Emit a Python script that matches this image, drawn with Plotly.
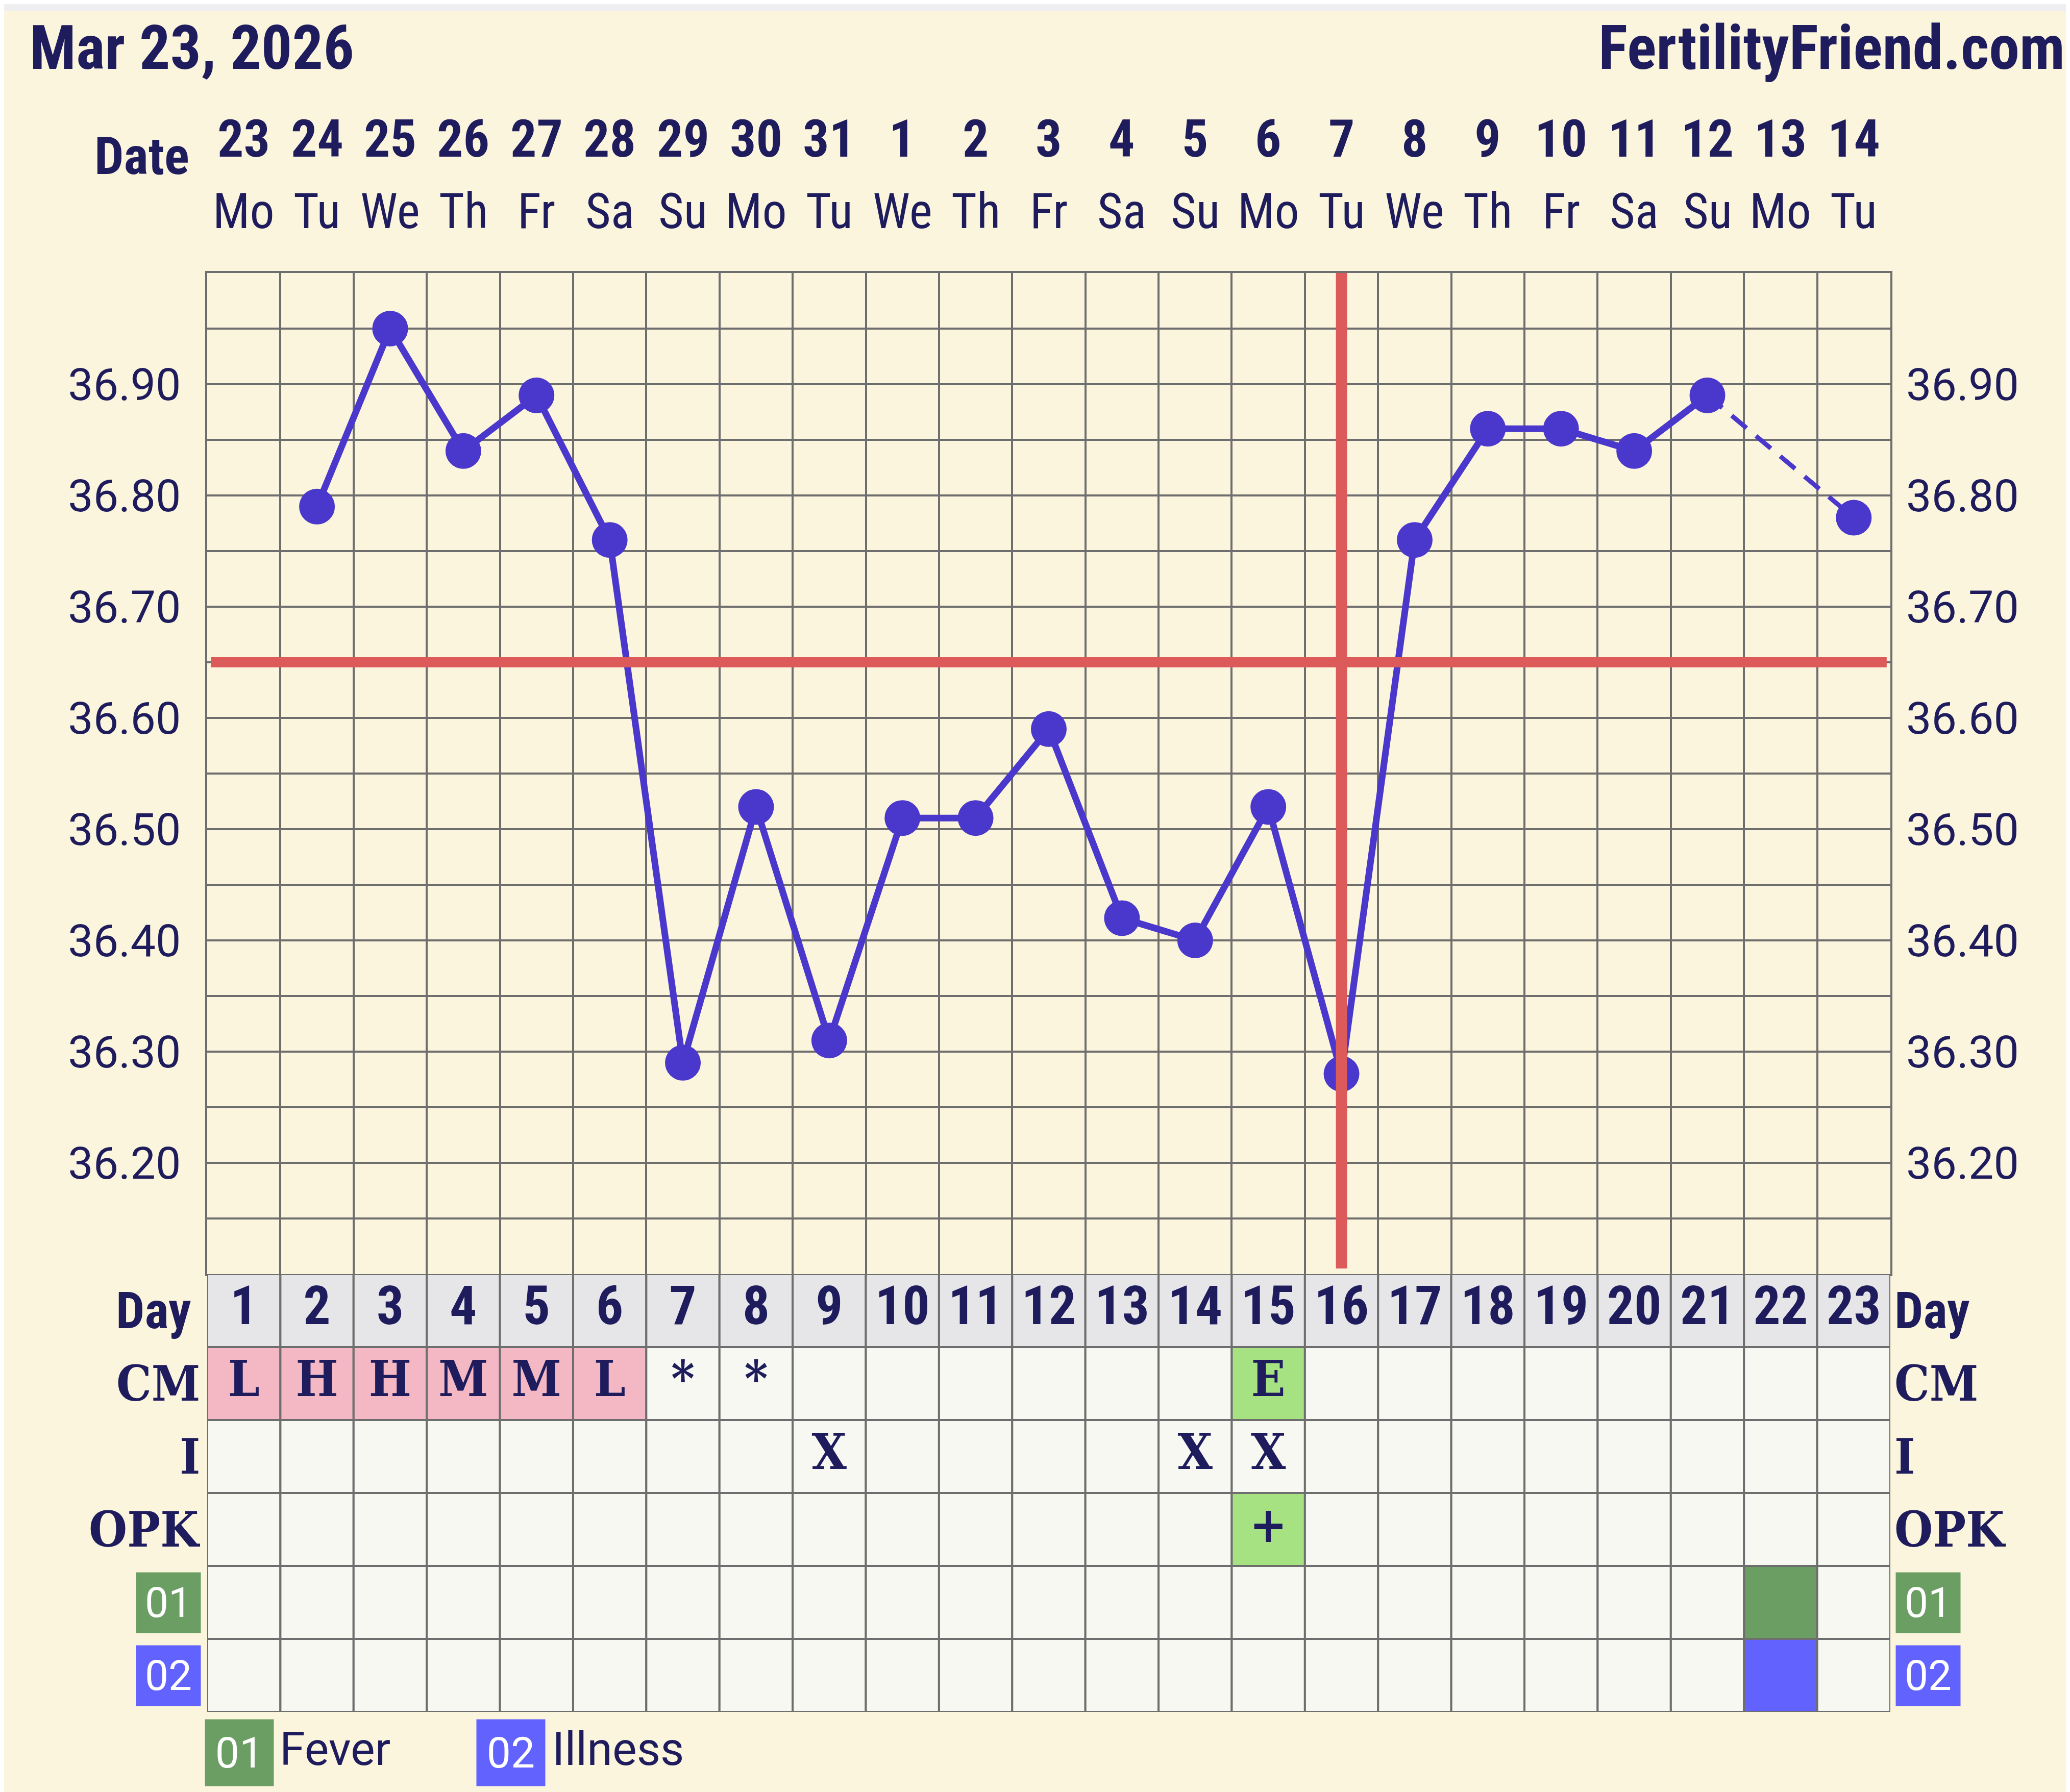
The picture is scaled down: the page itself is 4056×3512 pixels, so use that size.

# =========================================
# Fertility Chart (BBT) - Plotly recreation
# =========================================

import plotly.graph_objects as go


# =========================================
# Data
# =========================================

cycle_days = list(range(1, 24))

dates = ["23", "24", "25", "26", "27", "28", "29", "30", "31", "1", "2", "3",
         "4", "5", "6", "7", "8", "9", "10", "11", "12", "13", "14"]

weekdays = ["Mo", "Tu", "We", "Th", "Fr", "Sa", "Su",
            "Mo", "Tu", "We", "Th", "Fr", "Sa", "Su",
            "Mo", "Tu", "We", "Th", "Fr", "Sa", "Su",
            "Mo", "Tu"]

temps = [None, 36.79, 36.95, 36.84, 36.89, 36.76, 36.29, 36.52, 36.31, 36.51,
         36.51, 36.59, 36.42, 36.40, 36.52, 36.28, 36.76, 36.86, 36.86, 36.84,
         36.89, None, 36.78]

temp_ticks = [36.20, 36.30, 36.40, 36.50, 36.60, 36.70, 36.80, 36.90]

coverline = 36.65
ovulation_day = 16

cm = ["L", "H", "H", "M", "M", "L", "*", "*", "", "", "", "", "", "", "E",
      "", "", "", "", "", "", "", ""]

intercourse = ["", "", "", "", "", "", "", "", "X", "", "", "", "", "X", "X",
               "", "", "", "", "", "", "", ""]

opk = ["", "", "", "", "", "", "", "", "", "", "", "", "", "", "+",
       "", "", "", "", "", "", "", ""]

fever_days = [22]
illness_days = [22]

row_labels = ["Day", "CM", "I", "OPK"]


# =========================================
# Style
# =========================================

W, H = 4056, 3512

BG = "#FBF5DE"
NAVY = "#1E1C5C"
GRID = "#6E6E6E"
RED = "#DD5A5A"
PURPLE = "#4A37CB"
CELL = "#F8F8F2"
DAY_GRAY = "#E6E6E8"
PINK = "#F4B8C5"
LIGHT_GREEN = "#A6E282"
FEVER_GREEN = "#6A9E63"
ILLNESS_BLUE = "#6262FF"

NARROW = "Roboto Condensed, Liberation Sans Narrow, Arial Narrow, Roboto, sans-serif"
SLAB = "DejaVu Serif Condensed, DejaVu Serif, serif"
SANS = "Roboto, Noto Sans, sans-serif"

cm_colors = {"L": PINK, "H": PINK, "M": PINK, "E": LIGHT_GREEN}
opk_colors = {"+": LIGHT_GREEN}


def px_x(p):
    return p / W


def px_y(p):
    return 1 - p / H


PLOT_L, PLOT_R = 398, 3696
PLOT_T, PLOT_B = 527, 2489
TABLE_B = 3347


fig = go.Figure()


# =========================================
# Temperature curve
# =========================================

fig.add_trace(
    go.Scatter(
        x=[cycle_days[20], cycle_days[22]],
        y=[temps[20], temps[22]],
        mode="lines",
        line=dict(color=PURPLE, width=9, dash="38px,24px"),
        hoverinfo="skip",
    )
)

fig.add_trace(
    go.Scatter(
        x=cycle_days,
        y=temps,
        mode="lines+markers",
        connectgaps=False,
        line=dict(color=PURPLE, width=13),
        marker=dict(color=PURPLE, size=70),
    )
)

# invisible trace so the right-hand axis gets drawn
fig.add_trace(go.Scatter(x=[None], y=[None], yaxis="y3", showlegend=False))


# =========================================
# Table (Day / CM / I / OPK / 01 / 02)
# =========================================

shapes = []

for i, d in enumerate(cycle_days):
    fills = [
        DAY_GRAY,
        cm_colors.get(cm[i], CELL),
        CELL,
        opk_colors.get(opk[i], CELL),
        FEVER_GREEN if d in fever_days else CELL,
        ILLNESS_BLUE if d in illness_days else CELL,
    ]
    for r, fc in enumerate(fills):
        shapes.append(dict(
            type="rect", xref="x", yref="y2",
            x0=d - 0.5, x1=d + 0.5, y0=r, y1=r + 1,
            fillcolor=fc, line=dict(color=GRID, width=4), layer="between",
        ))

fig.add_trace(
    go.Scatter(
        x=cycle_days, y=[0.5] * 23, yaxis="y2",
        mode="text", text=[f"<b>{d}</b>" for d in cycle_days],
        textfont=dict(family=NARROW, size=106, color=NAVY),
    )
)

for r, row in enumerate([cm, intercourse, opk], start=1):
    fig.add_trace(
        go.Scatter(
            x=cycle_days, y=[r + 0.5] * 23, yaxis="y2",
            mode="text", text=[f"<b>{t}</b>" if t else "" for t in row],
            textfont=dict(family=SLAB, size=98, color=NAVY),
        )
    )


# =========================================
# Coverline + ovulation line
# =========================================

shapes.append(dict(
    type="line", xref="x", yref="y",
    x0=0.55, x1=23.45, y0=coverline, y1=coverline,
    line=dict(color=RED, width=20), layer="above",
))
shapes.append(dict(
    type="line", xref="x", yref="y",
    x0=ovulation_day, x1=ovulation_day, y0=36.105, y1=37.0,
    line=dict(color=RED, width=22), layer="above",
))

# light strip at the very top
shapes.append(dict(
    type="rect", xref="paper", yref="paper",
    x0=0, x1=1, y0=px_y(13), y1=1,
    fillcolor="#EFEFF1", line=dict(width=0), layer="below",
))


# =========================================
# Text annotations
# =========================================

ann = []

ann.append(dict(
    text="<b>Mar 23, 2026</b>", x=px_x(48), y=px_y(86),
    xanchor="left", yanchor="middle",
    font=dict(family=NARROW, size=120, color=NAVY),
))
ann.append(dict(
    text="<b>FertilityFriend.com</b>", x=px_x(4040), y=px_y(86),
    xanchor="right", yanchor="middle",
    font=dict(family=NARROW, size=120, color=NAVY),
))
ann.append(dict(
    text="<b>Date</b>", x=px_x(365), y=px_y(298),
    xanchor="right", yanchor="middle",
    font=dict(family=NARROW, size=102, color=NAVY),
))

for d, dt, wd in zip(cycle_days, dates, weekdays):
    ann.append(dict(
        text=f"<b>{dt}</b>", x=d, xref="x", y=px_y(264), yref="paper",
        xanchor="center", yanchor="middle",
        font=dict(family=NARROW, size=102, color=NAVY),
    ))
    ann.append(dict(
        text=wd, x=d, xref="x", y=px_y(406), yref="paper",
        xanchor="center", yanchor="middle",
        font=dict(family=NARROW, size=96, color=NAVY),
    ))

# row labels, both sides
for r, lab in enumerate(row_labels):
    fam = NARROW if lab == "Day" else SLAB
    left_x = 368 if lab == "Day" else 386
    for xp, anchor in [(left_x, "right"), (3702, "left")]:
        ann.append(dict(
            text=f"<b>{lab}</b>", x=px_x(xp), y=r + 0.5, yref="y2",
            xanchor=anchor, yanchor="middle",
            font=dict(family=fam, size=100 if lab == "Day" else 96, color=NAVY),
        ))

for r, (code, col) in enumerate([("01", FEVER_GREEN), ("02", ILLNESS_BLUE)], start=4):
    for xp, anchor in [(386, "right"), (3706, "left")]:
        ann.append(dict(
            text=code, x=px_x(xp), y=r + 0.5, yref="y2",
            xanchor=anchor, yanchor="middle",
            width=126, height=118, bgcolor=col, borderpad=0,
            font=dict(family=SANS, size=82, color="white"),
        ))

# legend
for code, col, name, bx, tx in [("01", FEVER_GREEN, "Fever", 393, 538),
                                ("02", ILLNESS_BLUE, "Illness", 925, 1072)]:
    ann.append(dict(
        text=code, x=px_x(bx), y=px_y(3427),
        xanchor="left", yanchor="middle",
        width=134, height=130, bgcolor=col, borderpad=0,
        font=dict(family=SANS, size=84, color="white"),
    ))
    ann.append(dict(
        text=name, x=px_x(tx), y=px_y(3420),
        xanchor="left", yanchor="middle",
        font=dict(family=SANS, size=90, color=NAVY),
    ))

for a in ann:
    a.setdefault("xref", "paper")
    a.setdefault("yref", "paper")
    a["showarrow"] = False


# =========================================
# Layout
# =========================================

ytick_text = [f"{v:.2f}" for v in temp_ticks]

fig.update_layout(
    width=W,
    height=H,
    autosize=False,
    margin=dict(l=0, r=0, t=0, b=0, pad=0),
    paper_bgcolor=BG,
    plot_bgcolor=BG,
    showlegend=False,
    hovermode=False,
    shapes=shapes,
    annotations=ann,
    xaxis=dict(
        domain=[px_x(PLOT_L), px_x(PLOT_R)],
        range=[0.5, 23.5],
        tickvals=[d + 0.5 for d in range(0, 24)],
        showticklabels=False,
        ticks="",
        showgrid=True, gridcolor=GRID, gridwidth=4,
        zeroline=False,
        showline=True, linecolor=GRID, linewidth=4, mirror=True,
        anchor="y",
    ),
    yaxis=dict(
        domain=[px_y(PLOT_B), px_y(PLOT_T)],
        range=[36.10, 37.00],
        tickvals=temp_ticks,
        ticktext=ytick_text,
        ticks="",
        ticklabelstandoff=30,
        tickfont=dict(family=SANS, size=88, color=NAVY),
        showgrid=True, gridcolor=GRID, gridwidth=4,
        minor=dict(tick0=36.10, dtick=0.05, showgrid=True,
                   gridcolor=GRID, gridwidth=4),
        zeroline=False,
        showline=True, linecolor=GRID, linewidth=4, mirror=True,
        anchor="x",
    ),
    yaxis3=dict(
        overlaying="y",
        side="right",
        anchor="x",
        range=[36.10, 37.00],
        tickvals=temp_ticks,
        ticktext=ytick_text,
        ticks="",
        ticklabelstandoff=30,
        tickfont=dict(family=SANS, size=88, color=NAVY),
        showgrid=False,
        zeroline=False,
    ),
    yaxis2=dict(
        domain=[px_y(TABLE_B), px_y(PLOT_B)],
        range=[6, 0],
        showticklabels=False,
        ticks="",
        showgrid=False,
        zeroline=False,
        anchor="x",
    ),
)

fig.write_html("out.html")
